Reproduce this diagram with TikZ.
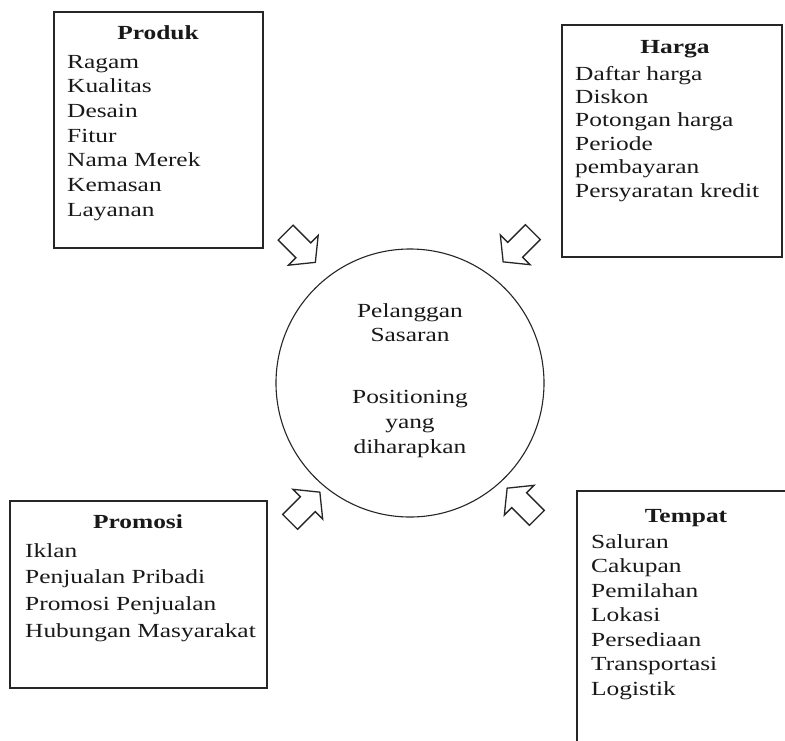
\documentclass[tikz,border=0pt]{standalone}
\usepackage{fontspec}
\setmainfont{Liberation Serif}[FakeStretch=1.27]
\begin{document}
\begin{tikzpicture}[x=1pt,y=-1pt,
  box/.style={draw=black!85, line width=1.3pt, rectangle, inner sep=0pt},
  ttl/.style={font=\fontsize{20}{24}\selectfont\bfseries, anchor=base, inner sep=0pt, text=black!90},
  item/.style={font=\fontsize{20}{24}\selectfont, anchor=base west, inner sep=0pt, text=black!90},
  ctxt/.style={font=\fontsize{20}{24}\selectfont, anchor=base, inner sep=0pt, text=black!90},
  arr/.style={draw=black!85, line width=1.3pt, line join=miter, fill=white},
  pics/blockarrow/.style={code={\draw[arr] (-21,-10.5) -- (4,-10.5) -- (4,-21) -- (21,0) -- (4,21) -- (4,10.5) -- (-21,10.5) -- cycle;}}]
\clip (0,0) rectangle (785,740);
\fill[white] (0,0) rectangle (785,740);

% centre circle
\node[circle, draw=black!85, line width=1.1pt, minimum size=268pt, inner sep=0pt] (ctr) at (410,383) {};
\node[ctxt] (c1) at (410,317) {Pelanggan};
\node[ctxt] (c2) at (410,341) {Sasaran};
\node[ctxt] (c3) at (410,403) {Positioning};
\node[ctxt] (c4) at (410,428) {yang};
\node[ctxt] (c5) at (410,453) {diharapkan};

% Produk
\node[box, minimum width=209pt, minimum height=236pt] (produk) at (158.5,130) {};
\node[ttl] (produkT) at (158,39) {Produk};
\foreach \t [count=\i from 0] in {Ragam,Kualitas,Desain,Fitur,Nama Merek,Kemasan,Layanan}
  \node[item] (pr\i) at (67,68+24.7*\i) {\t};

% Harga
\node[box, minimum width=220pt, minimum height=232pt] (harga) at (672,141) {};
\node[ttl] (hargaT) at (675,53) {Harga};
\foreach \t [count=\i from 0] in {Daftar harga,Diskon,Potongan harga,Periode,pembayaran,Persyaratan kredit}
  \node[item] (hr\i) at (575,80+23.4*\i) {\t};

% Promosi
\node[box, minimum width=257pt, minimum height=187pt] (promosi) at (138.5,594.5) {};
\node[ttl] (promosiT) at (138,528) {Promosi};
\foreach \t [count=\i from 0] in {Iklan,Penjualan Pribadi,Promosi Penjualan,Hubungan Masyarakat}
  \node[item] (pm\i) at (25,557+26.7*\i) {\t};

% Tempat
\node[box, minimum width=218pt, minimum height=259pt] (tempat) at (686,620.5) {};
\node[ttl] (tempatT) at (686,522) {Tempat};
\foreach \t [count=\i from 0] in {Saluran,Cakupan,Pemilahan,Lokasi,Persediaan,Transportasi,Logistik}
  \node[item] (tp\i) at (591,548+24.5*\i) {\t};

% block arrows pointing to the circle
\pic[rotate=-45] (a1) at (300.5,247.5) {blockarrow};
\pic[rotate=-135] (a2) at (518,247) {blockarrow};
\pic[rotate=45] (a3) at (305,507) {blockarrow};
\pic[rotate=135] (a4) at (522,503) {blockarrow};
\end{tikzpicture}
\end{document}
